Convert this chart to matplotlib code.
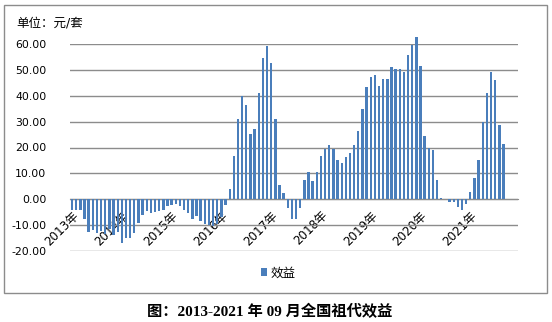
import matplotlib
matplotlib.use("Agg")
import matplotlib.pyplot as plt
from matplotlib.patches import Rectangle
import numpy as np

# monthly values, 2013-01 .. 2021-09 (yuan / set)
y2013 = [-4.1, -4.1, -4.3, -7.5, -12.5, -11.8, -13.0, -12.3, -13.5, -11.5, -14.0, -12.5]
y2014 = [-17.0, -15.0, -15.0, -13.0, -9.0, -6.0, -4.5, -5.5, -4.8, -4.5, -4.2, -2.8]
y2015 = [-2.2, -1.8, -2.8, -4.0, -5.5, -7.5, -6.5, -8.5, -9.5, -9.8, -10.2, -9.5]
y2016 = [-7.0, -2.2, 3.8, 16.7, 30.9, 39.9, 36.4, 25.2, 27.0, 40.9, 54.4, 59.3]
y2017 = [52.5, 31.0, 5.5, 2.4, -3.5, -7.7, -7.7, -3.5, 7.5, 10.5, 7.2, 10.5]
y2018 = [16.7, 19.4, 21.0, 19.4, 15.2, 14.0, 16.4, 17.9, 21.0, 26.4, 34.9, 43.4]
y2019 = [47.1, 48.0, 43.8, 46.5, 46.5, 51.1, 50.3, 50.3, 49.0, 55.7, 59.6, 62.7]
y2020 = [51.5, 24.6, 19.7, 19.0, 7.4, 0.5, 0.1, -1.2, -0.9, -3.1, -4.1, -1.8]
y2021 = [2.8, 8.1, 15.2, 29.9, 40.9, 49.2, 46.1, 28.7, 21.4]

years = [str(y) + "年" for y in range(2013, 2022)]
yticks = [-20, -10, 0, 10, 20, 30, 40, 50, 60]

values = y2013 + y2014 + y2015 + y2016 + y2017 + y2018 + y2019 + y2020 + y2021
n_slots = 108  # axis runs to 2021-12

fonts = ["DejaVu Sans", "Noto Sans CJK SC"]

W, H = 552, 322
fig = plt.figure(figsize=(W / 100, H / 100), dpi=100)
fig.patch.set_facecolor("white")

# chart frame
fig.add_artist(Rectangle((4 / W, 1 - 293 / H), 543 / W, 288 / H,
                         transform=fig.transFigure, fill=False,
                         edgecolor="#8c8c8c", linewidth=1.0))

ax = fig.add_axes([70 / W, 1 - 251 / H, 448 / W, 207 / H])
blue = "#4a7ebb"
x = np.arange(len(values))
ax.bar(x, values, width=0.58, color=blue, clip_on=False, zorder=3, label="效益")

ax.set_xlim(-0.5, n_slots - 0.5)
ax.set_ylim(-20, 60)
ax.set_yticks(yticks)
ax.set_yticklabels(["%.2f" % v for v in yticks], fontsize=7.8, family=fonts)
ax.yaxis.grid(True, color="#8c8c8c", linewidth=1.0, zorder=0)
ax.set_axisbelow(True)

for s in ["top", "right", "left"]:
    ax.spines[s].set_visible(False)
ax.spines["bottom"].set_position(("data", 0))
ax.spines["bottom"].set_color("#8c8c8c")
ax.tick_params(axis="both", length=0)
ax.tick_params(axis="y", pad=17)

ax.set_xticks(np.arange(0, n_slots, 12))
ax.set_xticklabels(years, rotation=45, ha="right", va="top",
                   rotation_mode="anchor", fontsize=8.6, family=fonts)
ax.tick_params(axis="x", pad=7)

fig.text(16 / W, 1 - 23 / H, "单位：元/套", fontsize=9, va="center", family=fonts)

leg = fig.legend(loc="center", bbox_to_anchor=(278 / W, 1 - 273 / H),
                 frameon=False, handlelength=0.55, handleheight=0.55,
                 handletextpad=0.25, prop={"family": fonts, "size": 9})

fig.text(270 / W, 1 - 311 / H, "图：2013-2021 年 09 月全国祖代效益",
         fontsize=11, fontweight="bold", ha="center", va="center",
         family=["Liberation Serif", "Noto Sans CJK SC"])

fig.savefig("out.png", dpi=100)
